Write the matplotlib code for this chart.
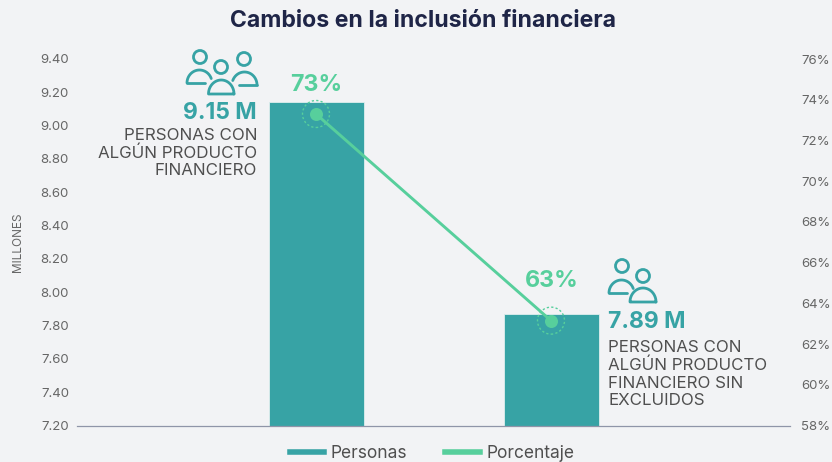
import numpy as np
import matplotlib
matplotlib.use("Agg")
import matplotlib.pyplot as plt
from matplotlib.patches import Circle
from matplotlib.lines import Line2D

categorias = ["PERSONAS CON\nALGÚN PRODUCTO\nFINANCIERO", "PERSONAS CON\nALGÚN PRODUCTO\nFINANCIERO SIN\nEXCLUIDOS"]
personas = [9.14, 7.87]
porcentaje = [73.3, 63.15]
etiquetas_personas = ["9.15 M", "7.89 M"]
etiquetas_pct = ["73%", "63%"]
ticks_izq = [7.2, 7.4, 7.6, 7.8, 8.0, 8.2, 8.4, 8.6, 8.8, 9.0, 9.2, 9.4]
ticks_der = [58, 60, 62, 64, 66, 68, 70, 72, 74, 76]

FONDO = "#f2f3f5"
TEAL = "#37a3a5"
VERDE = "#57cf9c"
GRIS = "#4f4f4f"
GRIS_T = "#666666"
W, H = 832, 462

plt.rcParams['font.family'] = ['Inter', 'DejaVu Sans']

fig = plt.figure(figsize=(W / 100, H / 100), dpi=100, facecolor=FONDO)

# ejes en pixeles de la imagen
x0, x1, ytop, ybot = 77, 790, 59, 425.5
ax = fig.add_axes([x0 / W, 1 - ybot / H, (x1 - x0) / W, (ybot - ytop) / H], facecolor=FONDO)
ax2 = ax.twinx()

xs = [0, 1]
ax.bar(xs, personas, width=95 / 235, color=TEAL, edgecolor="#dfeeee", linewidth=0.6)
ax.set_xlim(-239 / 235, 1 + 239 / 235)
ax.set_ylim(7.2, 9.4)
ax.set_yticks(ticks_izq)
ax.set_yticklabels(["%.2f" % t for t in ticks_izq], fontsize=9.5, color=GRIS_T)
ax.set_xticks([])
ax.tick_params(axis="y", length=0, pad=5.8)
for s in ["top", "left", "right"]:
    ax.spines[s].set_visible(False)
ax.spines["bottom"].set_color("#8f95a8")
ax.spines["bottom"].set_linewidth(0.9)

ax2.plot(xs, porcentaje, color=VERDE, lw=2.1, zorder=3)
ax2.scatter(xs, porcentaje, s=88, color=VERDE, zorder=4, linewidths=0)
ax2.scatter(xs, porcentaje, s=378, facecolors="none", edgecolors=VERDE, linewidths=1.0,
            linestyles=(0, (1.6, 1.6)), zorder=4)
ax2.set_ylim(58, 76)
ax2.set_yticks(ticks_der)
ax2.set_yticklabels(["%d%%" % t for t in ticks_der], fontsize=9.5, color=GRIS_T)
ax2.tick_params(axis="y", length=0, pad=8.2)
for s in ["top", "left", "right", "bottom"]:
    ax2.spines[s].set_visible(False)

# capa para textos e iconos
ov = fig.add_axes([0, 0, 1, 1], facecolor="none")
ov.set_xlim(0, W)
ov.set_ylim(H, 0)
ov.axis("off")

ov.text(423, 21, "Cambios en la inclusión financiera", ha="center", va="center",
        fontsize=16.6, fontweight="bold", color="#1f2547")
ov.text(18, 242, "MILLONES", rotation=90, ha="center", va="center", fontsize=8.5, color=GRIS_T)

ov.text(316, 85, etiquetas_pct[0], ha="center", va="center", fontsize=16.7, fontweight="bold", color=VERDE)
ov.text(552, 281, etiquetas_pct[1], ha="center", va="center", fontsize=16.7, fontweight="bold", color=VERDE)

ov.text(257, 113, etiquetas_personas[0], ha="right", va="center", fontsize=16.5, fontweight="bold", color=TEAL)
ov.text(608, 322, etiquetas_personas[1], ha="left", va="center", fontsize=16.5, fontweight="bold", color=TEAL)

ov.text(257, 153, categorias[0], ha="right", va="center", fontsize=12.2, color=GRIS, linespacing=1.22)
ov.text(608, 374, categorias[1], ha="left", va="center", fontsize=12.2, color=GRIS, linespacing=1.22)


def persona(hx, hy, x_a, x_b, y_base, alto, t0=0.0, t1=np.pi, cerrar=True):
    ov.add_patch(Circle((hx, hy), 6.5, fill=False, ec=TEAL, lw=2))
    t = np.linspace(t0, t1, 40)
    cx, rx = (x_a + x_b) / 2, (x_b - x_a) / 2
    px = list(cx + rx * np.cos(t))
    py = list(y_base - alto * np.sin(t))
    if cerrar:
        px.append(px[0])
        py.append(py[0])
    ov.plot(px, py, color=TEAL, lw=2, solid_capstyle="round", solid_joinstyle="round")


# icono de tres personas
persona(200, 57, 187, 212, 83, 13, t0=0.35, t1=np.pi, cerrar=False)
ov.plot([187, 205], [83, 83], color=TEAL, lw=2, solid_capstyle="round")
persona(244, 59, 232, 257, 85, 13, t0=0, t1=np.pi - 0.35, cerrar=False)
ov.plot([239, 257], [85, 85], color=TEAL, lw=2, solid_capstyle="round")
persona(221, 67, 208.5, 234, 94, 14)

# icono de dos personas
persona(622, 266, 609, 634, 293, 13, t0=0.35, t1=np.pi, cerrar=False)
ov.plot([609, 627], [293, 293], color=TEAL, lw=2, solid_capstyle="round")
persona(643, 276, 630, 656, 302, 14)

handles = [Line2D([], [], color=TEAL, lw=4), Line2D([], [], color=VERDE, lw=4)]
fig.legend(handles, ["Personas", "Porcentaje"], ncol=2, frameon=False, fontsize=12.5,
           labelcolor=GRIS, loc="center", bbox_to_anchor=(432 / W, 1 - 453.5 / H),
           handlelength=2.0, handletextpad=0.36, columnspacing=2.2, borderpad=0)

fig.savefig("out.png", dpi=100, facecolor=FONDO)
